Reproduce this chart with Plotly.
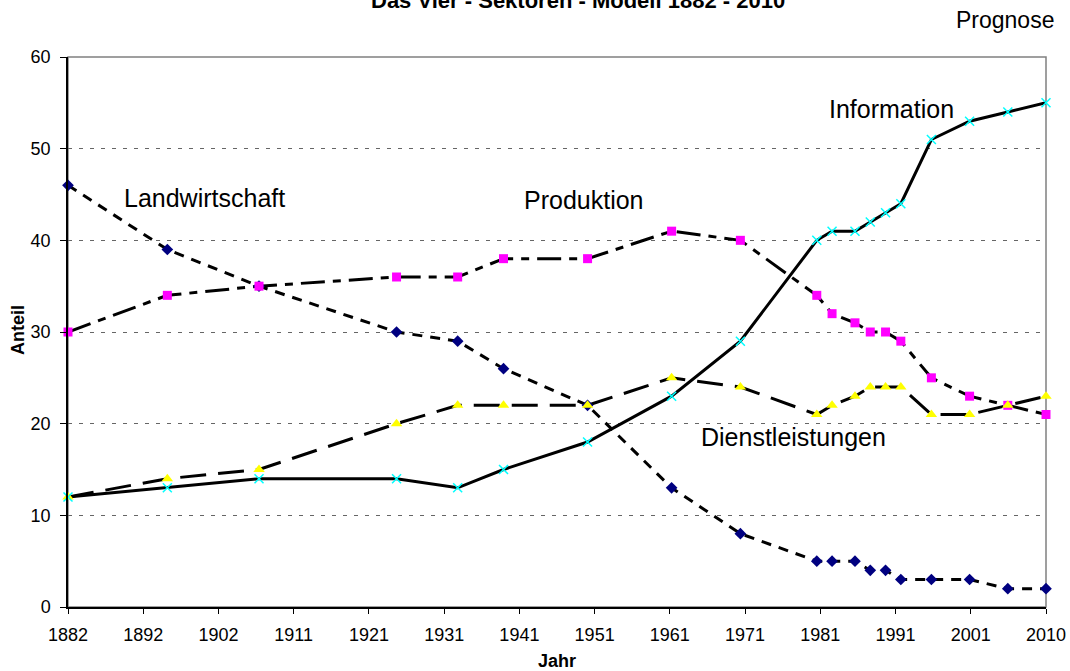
import plotly.graph_objects as go

years = [1882, 1895, 1907, 1925, 1933, 1939, 1950, 1961, 1970, 1980,
         1982, 1985, 1987, 1989, 1991, 1995, 2000, 2005, 2010]
landwirtschaft = [46, 39, 35, 30, 29, 26, 22, 13, 8, 5, 5, 5, 4, 4, 3, 3, 3, 2, 2]
produktion = [30, 34, 35, 36, 36, 38, 38, 41, 40, 34, 32, 31, 30, 30, 29, 25, 23, 22, 21]
dienstleistungen = [12, 14, 15, 20, 22, 22, 22, 25, 24, 21, 22, 23, 24, 24, 24, 21, 21, 22, 23]
information = [12, 13, 14, 14, 13, 15, 18, 23, 29, 40, 41, 41, 42, 43, 44, 51, 53, 54, 55]

tick_labels = ["1882", "1892", "1902", "1911", "1921", "1931", "1941", "1951",
               "1961", "1971", "1981", "1991", "2001", "2010"]
x_min, x_max = 1882, 2010
n = len(tick_labels) - 1
tick_vals = [x_min + i * (x_max - x_min) / n for i in range(len(tick_labels))]

FONT = "Liberation Sans, Arial, sans-serif"

series = [
    ("Landwirtschaft", landwirtschaft, "10px,8px", dict(symbol="diamond", size=9, color="#000080")),
    ("Produktion", produktion, "24px,8px,8px,8px", dict(symbol="square", size=9, color="#FF00FF")),
    ("Dienstleistungen", dienstleistungen, "26px,12px", dict(symbol="triangle-up", size=10, color="#FFFF00")),
    ("Information", information, "solid", dict(symbol="x-thin", size=9, color="#00FFFF",
                                               line=dict(color="#00FFFF", width=1.5))),
]

fig = go.Figure()
for name, vals, dash, mk in series:
    fig.add_trace(go.Scatter(x=years, y=vals, mode="lines", name=name,
                             line=dict(color="black", width=3, dash=dash),
                             showlegend=False, hoverinfo="skip"))
for name, vals, dash, mk in series:
    fig.add_trace(go.Scatter(x=years, y=vals, mode="markers", name=name,
                             marker=mk, showlegend=False, cliponaxis=False))

L, R, T, B = 68, 1046, 57, 607
W, H = 1070, 671
pw, ph = R - L, B - T


def px(x):
    return (x - L) / pw


def py(y):
    return (B - y) / ph


def label(text, x, y, size, bold=False, angle=0):
    f = dict(family=FONT, size=size, color="black")
    if bold:
        f["weight"] = "bold"
    return dict(text=text, x=px(x), y=py(y), xref="paper", yref="paper", showarrow=False,
                font=f, xanchor="center", yanchor="middle", textangle=angle)


annotations = [
    label("Das Vier - Sektoren - Modell 1882 - 2010", 578, 0, 22, bold=True),
    label("Prognose", 1005, 20, 23),
    label("Landwirtschaft", 204, 198, 25),
    label("Produktion", 584, 200, 25),
    label("Information", 891, 109, 25),
    label("Dienstleistungen", 793, 437, 25),
    label("Jahr", 557, 661, 18, bold=True),
    label("Anteil", 18, 330, 18, bold=True, angle=-90),
]

fig.update_layout(
    width=W, height=H, autosize=False,
    margin=dict(l=L, r=W - R, t=T, b=H - B, pad=0, autoexpand=False),
    paper_bgcolor="white", plot_bgcolor="white",
    font=dict(family=FONT, size=18, color="black"),
    annotations=annotations,
    shapes=[dict(type="rect", xref="paper", yref="paper", x0=0, y0=0, x1=1, y1=1,
                 line=dict(color="#808080", width=1.5), layer="below")],
    xaxis=dict(range=[x_min, x_max], tickmode="array", tickvals=tick_vals, ticktext=tick_labels,
               showgrid=False, zeroline=False, showline=True, linecolor="black", linewidth=1.5,
               ticks="outside", ticklen=5, tickcolor="black", tickwidth=1, automargin=False,
               tickfont=dict(family=FONT, size=18, color="black"), ticklabelstandoff=6),
    yaxis=dict(range=[0, 60], tickmode="array", tickvals=[0, 10, 20, 30, 40, 50, 60],
               showgrid=True, gridcolor="#666666", gridwidth=1, griddash="4px,7px",
               zeroline=False, showline=True, linecolor="black", linewidth=1.5, automargin=False,
               ticks="outside", ticklen=6, tickcolor="black", tickwidth=1,
               tickfont=dict(family=FONT, size=18, color="black"), ticklabelstandoff=6),
)

fig.write_html(
    "out.html",
    config={"displayModeBar": False, "responsive": False},
    default_width="1070px", default_height="671px",
    post_script="document.body.style.margin='0';document.body.style.overflow='hidden';"
                "document.documentElement.style.overflow='hidden';",
)
